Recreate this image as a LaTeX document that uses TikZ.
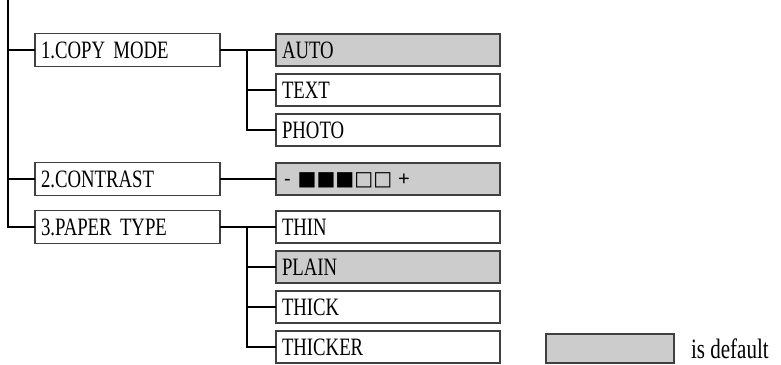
\documentclass[tikz,border=0pt]{standalone}
\usepackage{fontspec}
\usetikzlibrary{positioning}
\setmainfont{Liberation Serif}
\newfontfamily\menufont[FakeStretch=0.75, WordSpace=0.7]{Liberation Serif}
\newfontfamily\legendfont[FakeStretch=0.75]{Liberation Serif}
\newfontfamily\barfont{Liberation Sans}
\newfontfamily\squarefont{DejaVu Sans}
\definecolor{defgray}{HTML}{CCCCCC}
\definecolor{edgegray}{HTML}{404040}

\begin{document}
\begin{tikzpicture}[
    x=1pt, y=1pt,
    node distance=8pt,
    menu/.style={rectangle, draw=edgegray, line width=1.2pt, fill=white,
                 minimum width=185pt, minimum height=33pt, text width=173pt,
                 text height=16pt, text depth=0pt, outer sep=0pt,
                 inner xsep=6pt, inner ysep=0pt, align=left,
                 font=\menufont\fontsize{25}{28}\selectfont},
    choice/.style={menu, minimum width=224pt, minimum height=32pt, text width=212pt},
    default/.style={fill=defgray},
    link/.style={line width=2pt, black}
]
\useasboundingbox (0,0) rectangle (781,-364);

% Settings column
\node[choice, default] (auto) at (388,-50) {AUTO};
\node[choice, below=of auto] (textmd) {TEXT};
\node[choice, below=of textmd] (photo) {PHOTO};
\node[choice, default, below=17pt of photo, text height=13pt,
      font=\barfont\fontsize{20}{24}\selectfont] (contrastval)
      {\hspace*{2pt}-\hspace{7pt}{\squarefont\fontsize{20}{24}\selectfont ■■■□□}\hspace{6pt}+};
\node[choice, below=16pt of contrastval] (thin) {THIN};
\node[choice, default, below=of thin] (plain) {PLAIN};
\node[choice, below=of plain] (thick) {THICK};
\node[choice, below=of thick] (thicker) {THICKER};

% Menu column
\node[menu, left=56pt of auto] (copy) {1.COPY MODE};
\node[menu, left=56pt of contrastval] (contrast) {2.CONTRAST};
\node[menu, left=56pt of thin] (paper) {3.PAPER TYPE};

% Main trunk
\coordinate (trunktop) at (8,0);
\draw[link] (trunktop) |- (paper.west);
\draw[link] (trunktop |- copy.west) -- (copy.west);
\draw[link] (trunktop |- contrast.west) -- (contrast.west);

% Branches
\draw[link] (copy.east) -- (auto.west);
\coordinate (copyfork) at ([xshift=27pt]copy.east);
\draw[link] (copyfork) |- (photo.west);
\draw[link] (copyfork |- textmd.west) -- (textmd.west);

\draw[link] (contrast.east) -- (contrastval.west);

\draw[link] (paper.east) -- (thin.west);
\coordinate (paperfork) at ([xshift=27pt]paper.east);
\draw[link] (paperfork) |- (thicker.west);
\foreach \opt in {plain, thick}
    \draw[link] (paperfork |- \opt.west) -- (\opt.west);

% Legend
\node[rectangle, draw=edgegray, line width=1.2pt, default,
      minimum width=128pt, minimum height=29pt] (legend) at (610,-348.5) {};
\node[right=13pt of legend, font=\legendfont\fontsize{28}{32}\selectfont] (isdefault) {is default};

\end{tikzpicture}
\end{document}
